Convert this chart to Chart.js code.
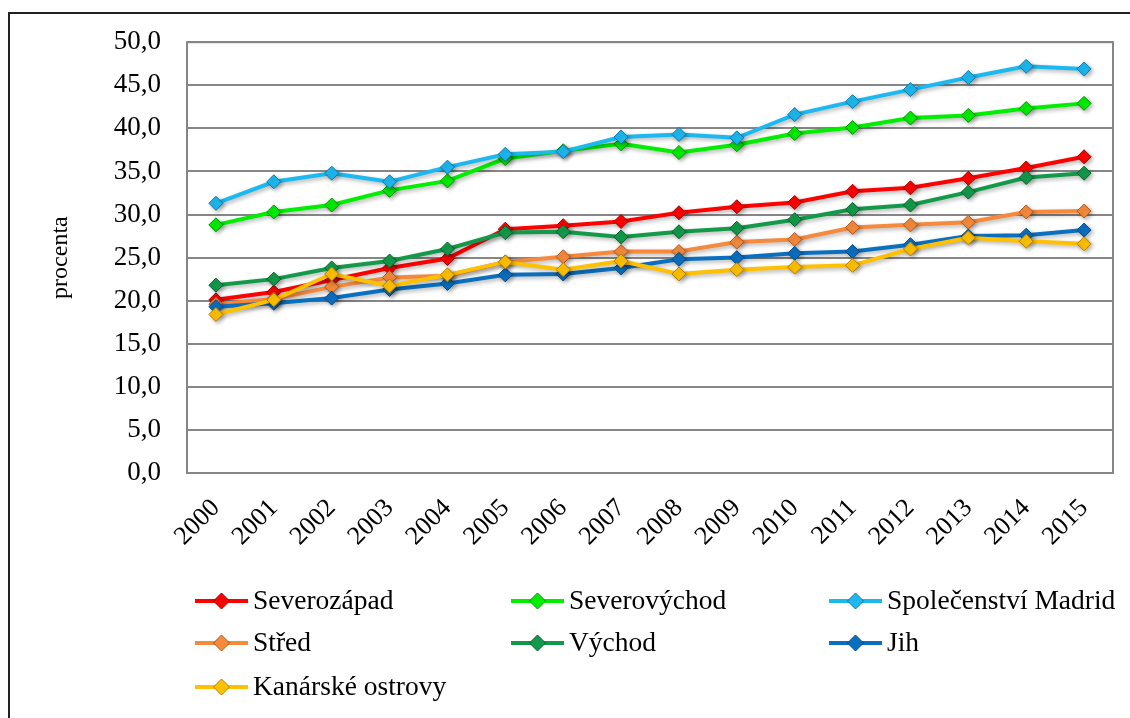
<!DOCTYPE html>
<html>
<head>
<meta charset="utf-8">
<script src="https://cdn.jsdelivr.net/npm/chart.js@4"></script>
<style>
body { margin: 0; background: #fff; overflow: hidden; }
#ramecek { position: absolute; left: 8px; top: 12px; width: 1200px; height: 800px; border: 2px solid #222; box-sizing: border-box; }
#graf { position: absolute; left: 0; top: 0; }
</style>
</head>
<body>
<div id="ramecek"></div>
<canvas id="graf" width="1130" height="718"></canvas>
<script>
const roky = ['2000', '2001', '2002', '2003', '2004', '2005', '2006', '2007', '2008', '2009', '2010', '2011', '2012', '2013', '2014', '2015']

const severozapad = [20.1, 21.0, 22.4, 23.8, 24.9, 28.3, 28.7, 29.2, 30.2, 30.9, 31.4, 32.7, 33.1, 34.2, 35.4, 36.7]
const severovychod = [28.8, 30.3, 31.1, 32.8, 33.9, 36.5, 37.4, 38.2, 37.2, 38.1, 39.4, 40.1, 41.2, 41.5, 42.3, 42.9]
const madrid = [31.3, 33.8, 34.8, 33.8, 35.5, 37.0, 37.3, 39.0, 39.3, 38.9, 41.6, 43.1, 44.5, 45.9, 47.2, 46.9]
const stred = [19.6, 20.2, 21.6, 22.7, 22.9, 24.5, 25.1, 25.7, 25.7, 26.8, 27.1, 28.5, 28.8, 29.1, 30.3, 30.4]
const vychod = [21.8, 22.5, 23.8, 24.6, 26.0, 27.9, 28.0, 27.4, 28.0, 28.4, 29.4, 30.6, 31.1, 32.6, 34.3, 34.8]
const jih = [19.3, 19.7, 20.3, 21.3, 22.0, 23.0, 23.1, 23.8, 24.8, 25.0, 25.5, 25.7, 26.5, 27.5, 27.6, 28.2]
const kanarske = [18.4, 20.1, 23.1, 21.7, 23.0, 24.5, 23.6, 24.6, 23.1, 23.6, 23.9, 24.1, 26.0, 27.3, 26.9, 26.6]

const nazvy = ['Severozápad', 'Severovýchod', 'Společenství Madrid', 'Střed', 'Východ', 'Jih', 'Kanárské ostrovy']
const hodnoty = [severozapad, severovychod, madrid, stred, vychod, jih, kanarske]
const barvy = ['#ff0000', '#00ee00', '#1cb8f0', '#f58a3c', '#129a4a', '#0b6fc0', '#ffc000']
const okraje = ['#a00000', '#009000', '#0a7aa8', '#b0581c', '#0a5e2c', '#064a82', '#b08000']

const pismo = 'Liberation Serif'

// vlastni legenda ve trech sloupcich
const legendaMrizka = {
    id: 'legendaMrizka',
    afterDraw(chart) {
        const ctx = chart.ctx
        const sloupce = [195, 511, 829]
        const radky = [601, 643, 687]
        chart.data.datasets.forEach(function (ds, i) {
            const x = sloupce[i % 3]
            const y = radky[Math.floor(i / 3)]
            ctx.save()
            ctx.strokeStyle = ds.borderColor
            ctx.lineWidth = 4
            ctx.beginPath()
            ctx.moveTo(x, y)
            ctx.lineTo(x + 53, y)
            ctx.stroke()
            ctx.fillStyle = ds.pointBackgroundColor
            ctx.strokeStyle = ds.pointBorderColor
            ctx.lineWidth = 1
            ctx.beginPath()
            ctx.moveTo(x + 26.5, y - 8)
            ctx.lineTo(x + 34.5, y)
            ctx.lineTo(x + 26.5, y + 8)
            ctx.lineTo(x + 18.5, y)
            ctx.closePath()
            ctx.fill()
            ctx.stroke()
            ctx.fillStyle = '#000'
            ctx.font = '27.5px "' + pismo + '"'
            ctx.textBaseline = 'middle'
            ctx.fillText(ds.label, x + 58, y + 1)
            ctx.restore()
        })
    }
}

// ramecek kolem plochy grafu
const ramPlochy = {
    id: 'ramPlochy',
    beforeDatasetsDraw(chart) {
        const a = chart.chartArea
        const ctx = chart.ctx
        ctx.save()
        ctx.strokeStyle = '#868686'
        ctx.lineWidth = 2
        ctx.strokeRect(a.left, a.top, a.right - a.left, a.bottom - a.top)
        ctx.restore()
    }
}

const stin = {
    id: 'stin',
    beforeDatasetsDraw(chart) {
        chart.ctx.save()
        chart.ctx.shadowColor = 'rgba(0,0,0,0.3)'
        chart.ctx.shadowBlur = 4
        chart.ctx.shadowOffsetX = 2
        chart.ctx.shadowOffsetY = 2
    },
    afterDatasetsDraw(chart) {
        chart.ctx.restore()
    }
}

const datasety = []
for (let i = 0; i < nazvy.length; i++) {
    datasety.push({
        label: nazvy[i],
        data: hodnoty[i],
        borderColor: barvy[i],
        backgroundColor: barvy[i],
        borderWidth: 4,
        pointStyle: 'rectRot',
        pointRadius: 7,
        pointBackgroundColor: barvy[i],
        pointBorderColor: okraje[i],
        pointBorderWidth: 1,
        tension: 0,
        order: nazvy.length - i
    })
}

const ctx = document.getElementById('graf').getContext('2d')

const graf = new Chart(ctx, {
    type: 'line',
    data: {
        labels: roky,
        datasets: datasety
    },
    options: {
        responsive: false,
        animation: false,
        layout: { padding: { top: 42, right: 17, left: 0, bottom: 0 } },
        plugins: {
            legend: { display: false },
            tooltip: { enabled: false }
        },
        scales: {
            x: {
                offset: true,
                afterFit: function (scale) { scale.height = 245 },
                grid: { display: false, drawTicks: false },
                border: { display: false },
                ticks: {
                    color: '#000',
                    font: { family: pismo, size: 26 },
                    minRotation: 45,
                    maxRotation: 45,
                    padding: 20,
                    autoSkip: false
                }
            },
            y: {
                min: 0,
                max: 50,
                afterFit: function (scale) { scale.width = 187 },
                grid: { color: '#868686', lineWidth: 2, drawTicks: false },
                border: { display: false },
                ticks: {
                    stepSize: 5,
                    color: '#000',
                    padding: 26,
                    font: { family: pismo, size: 27 },
                    callback: function (v) { return v.toFixed(1).replace('.', ',') }
                },
                title: {
                    display: true,
                    text: 'procenta',
                    color: '#000',
                    font: { family: pismo, size: 24 },
                    padding: { top: 46, bottom: 0 }
                }
            }
        }
    },
    plugins: [ramPlochy, stin, legendaMrizka]
})
</script>
</body>
</html>
